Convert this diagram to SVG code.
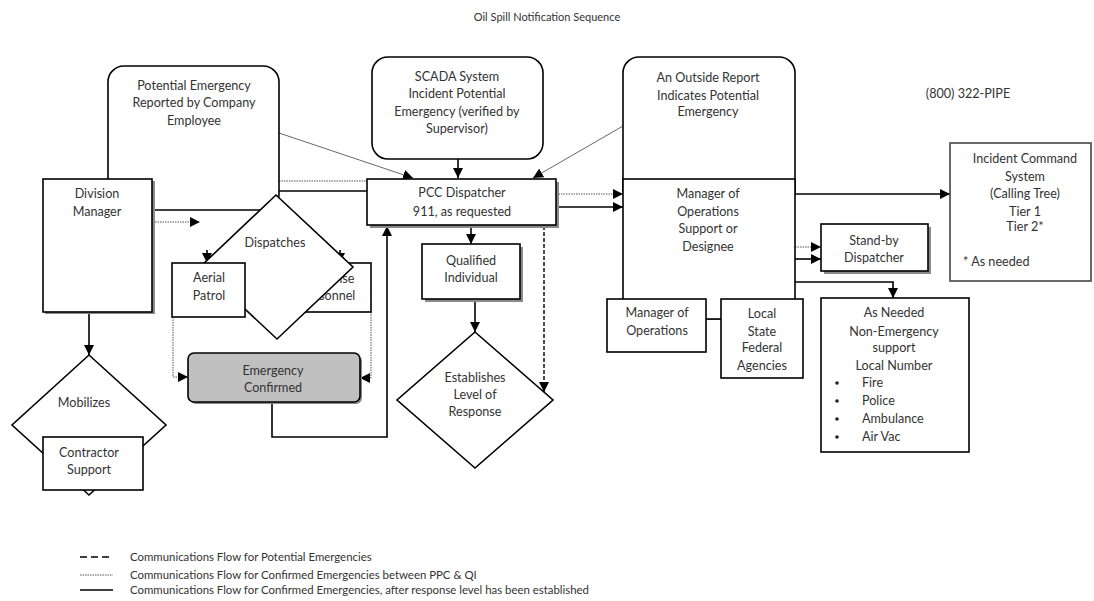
<svg xmlns="http://www.w3.org/2000/svg" width="1094" height="601" viewBox="0 0 1094 601">
  <defs>
    <marker id="arrow" viewBox="0 0 10 10" refX="10" refY="5" markerWidth="10" markerHeight="10" markerUnits="userSpaceOnUse" orient="auto">
      <path d="M0,0 L10,5 L0,10 z" fill="#000"/>
    </marker>
    <style>
      .box { fill: #fff; stroke: #000; stroke-width: 1.6; }
      .grey { fill: #c0c0c0; stroke: #000; stroke-width: 1.6; }
      .shadow { fill: #8a8a8a; stroke: none; }
      .t { font-family: Lato, "Liberation Sans", sans-serif; font-size: 12.6px; fill: #333; text-anchor: middle; }
      .title { font-size: 11px; }
      .leg { font-size: 11.4px; }
      .l { text-anchor: start; }
      .solid { fill: none; stroke: #000; stroke-width: 1.6; }
      .dot { fill: none; stroke: #555; stroke-width: 1; stroke-dasharray: 1.5 1; }
      .dash { fill: none; stroke: #000; stroke-width: 1.4; stroke-dasharray: 4 2; }
      .thin { fill: none; stroke: #555; stroke-width: 0.9; }
    </style>
  </defs>
  <rect width="1094" height="601" fill="#fff"/>

  <text class="t title" x="547" y="21">Oil Spill Notification Sequence</text>

  <!-- Connectors -->
  <g id="connectors">
    <line class="thin" x1="279" y1="133" x2="413" y2="178" marker-end="url(#arrow)"/>
    <line class="thin" x1="623" y1="126" x2="533" y2="178" marker-end="url(#arrow)"/>
    <line class="solid" x1="458" y1="159" x2="458" y2="178" marker-end="url(#arrow)"/>
    <line class="dot" x1="279" y1="181" x2="367" y2="181"/>
    <line class="solid" x1="279" y1="191" x2="367" y2="191"/>
    <line class="dot" x1="155" y1="222" x2="200" y2="222" marker-end="url(#arrow)"/>
    <line class="solid" x1="207" y1="250" x2="207" y2="263" marker-end="url(#arrow)"/>
    <line class="solid" x1="340" y1="250" x2="340" y2="263" marker-end="url(#arrow)"/>
    <polyline class="dot" points="173,317 173,377 188,377" marker-end="url(#arrow)"/>
    <polyline class="dot" points="371,312 371,378 360,378" marker-end="url(#arrow)"/>
    <polyline class="solid" points="272,402 272,437 387,437 387,226" marker-end="url(#arrow)"/>
    <line class="solid" x1="89" y1="312" x2="89" y2="355" marker-end="url(#arrow)"/>
    <line class="dot" x1="556" y1="194" x2="623" y2="194" marker-end="url(#arrow)"/>
    <line class="solid" x1="556" y1="207" x2="623" y2="207" marker-end="url(#arrow)"/>
    <line class="solid" x1="471" y1="225" x2="471" y2="244" marker-end="url(#arrow)"/>
    <line class="solid" x1="475" y1="299" x2="475" y2="332" marker-end="url(#arrow)"/>
    <line class="dash" x1="544" y1="226" x2="544" y2="392" marker-end="url(#arrow)"/>
    <line class="solid" x1="795" y1="194" x2="950" y2="194" marker-end="url(#arrow)"/>
    <line class="dot" x1="795" y1="247" x2="821" y2="247" marker-end="url(#arrow)"/>
    <line class="solid" x1="795" y1="259" x2="821" y2="259" marker-end="url(#arrow)"/>
    <polyline class="solid" points="795,282 893,282 893,298" marker-end="url(#arrow)"/>
    <line fill="none" stroke="#000" stroke-width="3" x1="706" y1="318" x2="721" y2="318"/>
  </g>

  <!-- Reporting sources -->
  <g id="employee-report">
    <rect class="box" x="108" y="66" width="171" height="144" rx="16"/>
    <text class="t" x="194" y="90">Potential Emergency</text>
    <text class="t" x="194" y="107">Reported by Company</text>
    <text class="t" x="194" y="125">Employee</text>
  </g>
  <g id="scada">
    <rect class="box" x="372" y="57" width="171" height="102" rx="16"/>
    <text class="t" x="457" y="81">SCADA System</text>
    <text class="t" x="457" y="98">Incident Potential</text>
    <text class="t" x="457" y="116">Emergency (verified by</text>
    <text class="t" x="457" y="133">Supervisor)</text>
  </g>
  <g id="outside-report">
    <rect class="box" x="623" y="57" width="172" height="150" rx="16"/>
    <text class="t" x="708" y="82">An Outside Report</text>
    <text class="t" x="708" y="100">Indicates Potential</text>
    <text class="t" x="708" y="116">Emergency</text>
  </g>

  <g id="division-manager">
    <rect class="shadow" x="45" y="181" width="110" height="133"/>
    <rect class="box" x="43" y="179" width="109" height="133"/>
    <text class="t" x="97" y="198">Division</text>
    <text class="t" x="97" y="216">Manager</text>
  </g>

  <g id="response-personnel">
    <rect class="box" x="297" y="263" width="74" height="49"/>
    <text class="t" x="328" y="283">Response</text>
    <text class="t" x="328" y="300">Personnel</text>
  </g>
  <g id="dispatches">
    <polygon class="box" points="276,195 353,267 277,339 200,267"/>
    <text class="t" x="275" y="247">Dispatches</text>
  </g>
  <g id="aerial-patrol">
    <rect class="box" x="172" y="263" width="73" height="54"/>
    <text class="t" x="209" y="282">Aerial</text>
    <text class="t" x="209" y="300">Patrol</text>
  </g>

  <g id="emergency-confirmed">
    <rect class="shadow" x="190" y="355" width="172" height="49" rx="6"/>
    <rect class="grey" x="188" y="353" width="172" height="49" rx="6"/>
    <text class="t" x="273" y="375">Emergency</text>
    <text class="t" x="273" y="392">Confirmed</text>
  </g>

  <g id="mobilizes">
    <polygon class="box" points="89,355 166,425 89,495 12,425"/>
    <text class="t" x="84" y="407">Mobilizes</text>
  </g>
  <g id="contractor-support">
    <rect class="box" x="43" y="437" width="100" height="53"/>
    <text class="t" x="89" y="457">Contractor</text>
    <text class="t" x="89" y="474">Support</text>
  </g>

  <g id="pcc-dispatcher">
    <rect class="shadow" x="370" y="182" width="189" height="46"/>
    <rect class="box" x="367" y="179" width="189" height="46"/>
    <text class="t" x="462" y="197">PCC Dispatcher</text>
    <text class="t" x="462" y="216">911, as requested</text>
  </g>

  <g id="qualified-individual">
    <rect class="shadow" x="425" y="247" width="98" height="55"/>
    <rect class="box" x="422" y="244" width="98" height="55"/>
    <text class="t" x="471" y="265">Qualified</text>
    <text class="t" x="471" y="282">Individual</text>
  </g>

  <g id="level-of-response">
    <polygon class="box" points="475,332 553,400 475,468 397,400"/>
    <text class="t" x="475" y="382">Establishes</text>
    <text class="t" x="475" y="399">Level of</text>
    <text class="t" x="475" y="416">Response</text>
  </g>

  <g id="ops-support">
    <rect class="box" x="623" y="179" width="172" height="140"/>
    <text class="t" x="708" y="198">Manager of</text>
    <text class="t" x="708" y="216">Operations</text>
    <text class="t" x="708" y="233">Support or</text>
    <text class="t" x="708" y="251">Designee</text>
  </g>

  <g id="manager-of-operations">
    <rect class="box" x="607" y="299" width="99" height="53"/>
    <text class="t" x="657" y="317">Manager of</text>
    <text class="t" x="657" y="335">Operations</text>
  </g>
  <g id="agencies">
    <rect class="box" x="721" y="299" width="82" height="79"/>
    <text class="t" x="762" y="318">Local</text>
    <text class="t" x="762" y="336">State</text>
    <text class="t" x="762" y="352">Federal</text>
    <text class="t" x="762" y="370">Agencies</text>
  </g>

  <g id="phone">
    <text class="t" x="968" y="98">(800) 322-PIPE</text>
  </g>

  <g id="incident-command">
    <rect class="box" x="950" y="143" width="141" height="138" style="stroke:#444"/>
    <text class="t" x="1025" y="163">Incident Command</text>
    <text class="t" x="1025" y="181">System</text>
    <text class="t" x="1025" y="198">(Calling Tree)</text>
    <text class="t" x="1025" y="216">Tier 1</text>
    <text class="t" x="1025" y="231">Tier 2*</text>
    <text class="t l" x="963" y="266">* As needed</text>
  </g>

  <g id="standby-dispatcher">
    <rect class="shadow" x="824" y="227" width="107" height="47"/>
    <rect class="box" x="821" y="224" width="107" height="47"/>
    <text class="t" x="874" y="245">Stand-by</text>
    <text class="t" x="874" y="262">Dispatcher</text>
  </g>

  <g id="non-emergency-support">
    <rect class="box" x="821" y="298" width="148" height="154"/>
    <text class="t" x="894" y="317">As Needed</text>
    <text class="t" x="894" y="336">Non-Emergency</text>
    <text class="t" x="894" y="352">support</text>
    <text class="t" x="894" y="370">Local Number</text>
    <g>
      <circle cx="837" cy="383" r="1.8" fill="#222"/>
      <circle cx="837" cy="401" r="1.8" fill="#222"/>
      <circle cx="837" cy="419" r="1.8" fill="#222"/>
      <circle cx="837" cy="437" r="1.8" fill="#222"/>
    </g>
    <text class="t l" x="862" y="387">Fire</text>
    <text class="t l" x="862" y="405">Police</text>
    <text class="t l" x="862" y="423">Ambulance</text>
    <text class="t l" x="862" y="441">Air Vac</text>
  </g>

  <!-- Legend -->
  <g id="legend">
    <line class="dash" x1="80" y1="557" x2="113" y2="557" style="stroke-dasharray:7 4"/>
    <line class="dot" x1="80" y1="575" x2="113" y2="575"/>
    <line class="solid" x1="80" y1="590" x2="113" y2="590"/>
    <text class="t l leg" x="130" y="561">Communications Flow for Potential Emergencies</text>
    <text class="t l leg" x="130" y="579">Communications Flow for Confirmed Emergencies between PPC &amp; QI</text>
    <text class="t l leg" x="130" y="594">Communications Flow for Confirmed Emergencies, after response level has been established</text>
  </g>
</svg>
